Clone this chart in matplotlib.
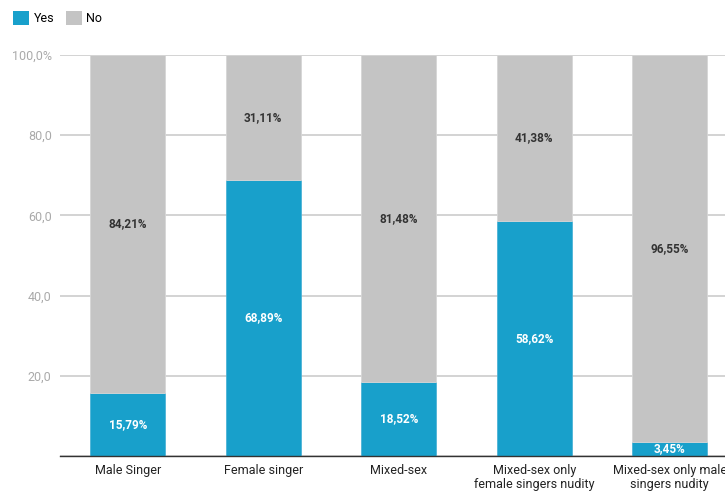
import matplotlib
matplotlib.use("Agg")
import matplotlib.pyplot as plt
from matplotlib.patches import Patch
import numpy as np

plt.rcParams['font.family'] = ['Roboto', 'DejaVu Sans']

categories = ["Male Singer", "Female singer", "Mixed-sex",
              "Mixed-sex only\nfemale singers nudity",
              "Mixed-sex only male\nsingers nudity"]
yes_vals = [15.79, 68.89, 18.52, 58.62, 3.45]
no_vals = [84.21, 31.11, 81.48, 41.38, 96.55]
yticks = [0, 20, 40, 60, 80, 100]
ytick_labels = ["", "20,0", "40,0", "60,0", "80,0", "100,0%"]

BLUE = "#18a0cb"
GREY = "#c4c4c4"

fig = plt.figure(figsize=(7.25, 4.91), dpi=100)
ax = fig.add_axes([60/725, 1-456/491, 677.5/725, 401/491])

x = np.arange(len(categories))
w = 0.555
ax.bar(x, yes_vals, width=w, color=BLUE, edgecolor="#4db3d6", linewidth=0.6, zorder=3)
ax.bar(x, no_vals, width=w, bottom=yes_vals, color=GREY, edgecolor="#d6d6d6", linewidth=0.6, zorder=3)

def fmt(v):
    return f"{v:.2f}".replace(".", ",") + "%"

for xi, yv, nv in zip(x, yes_vals, no_vals):
    ax.text(xi, yv/2, fmt(yv), ha="center", va="center", color="white",
            fontsize=8.5, fontweight="bold", zorder=5)
    ax.text(xi, yv + nv/2, fmt(nv), ha="center", va="center", color="#333333",
            fontsize=8.5, fontweight="bold", zorder=5)

ax.set_xlim(-0.5, len(categories) - 0.5)
ax.set_ylim(0, 100)
ax.set_yticks(yticks)
ax.set_yticklabels(ytick_labels)
ax.yaxis.grid(True, color="#cccccc", linewidth=1.2, zorder=0)
ax.set_axisbelow(True)
ax.set_xticks(x)
ax.set_xticklabels(categories, fontsize=9, color="#222222", linespacing=1.1)
ax.tick_params(axis="x", length=0, pad=6)
ax.tick_params(axis="y", length=0, pad=6, labelsize=9, labelcolor="#aaaaaa")
for s in ["top", "right", "left"]:
    ax.spines[s].set_visible(False)
ax.spines["bottom"].set_color("#333333")
ax.spines["bottom"].set_linewidth(1.0)
ax.spines["bottom"].set_zorder(6)

handles = [Patch(facecolor=BLUE, label="Yes"), Patch(facecolor=GREY, label="No")]
fig.legend(handles=handles, loc="upper left", bbox_to_anchor=(0.006, 0.995), ncol=2,
           frameon=False, fontsize=9, handlelength=1.3, handleheight=1.3,
           handletextpad=0.35, columnspacing=0.9, borderaxespad=0.3)

fig.savefig("out.png", dpi=100)
